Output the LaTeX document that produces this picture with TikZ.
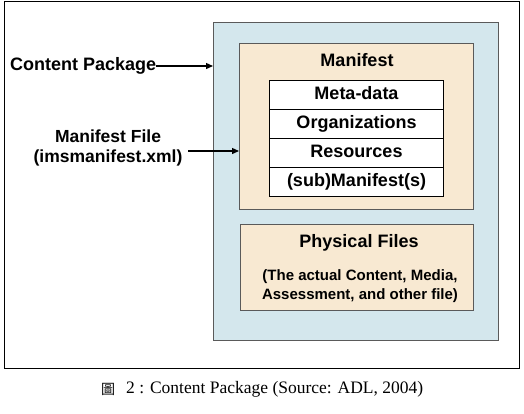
\documentclass[tikz,border=0pt]{standalone}
\usepackage{fontspec}
\setmainfont{Liberation Serif}
\newfontfamily\arial{Liberation Sans}
\newfontfamily\cjk{Noto Sans CJK TC}
\usetikzlibrary{arrows.meta}
\definecolor{pkgblue}{HTML}{D4E7ED}
\definecolor{beige}{HTML}{F8E9D2}
\definecolor{edgegray}{HTML}{5A5A5A}
\begin{document}
\begin{tikzpicture}[x=1pt,y=-1pt,
  lbl/.style={font=\arial\bfseries\fontsize{17.5}{20.5}\selectfont, inner sep=0pt},
  rowtxt/.style={font=\arial\bfseries\fontsize{18}{21}\selectfont, inner sep=0pt, text height=13pt, text depth=4pt},
  small/.style={font=\arial\bfseries\fontsize{15}{18.5}\selectfont, inner sep=0pt, align=center},
  box/.style={draw=edgegray, line width=1.2pt},
  cell/.style={draw=black, line width=1pt, fill=white},
  arr/.style={-{Triangle[length=7pt,width=6pt]}, line width=1.3pt}]
\useasboundingbox (0,0) rectangle (524,413);
\node[draw=black, line width=1.3pt, minimum width=515pt, minimum height=367pt, anchor=north west, inner sep=0pt] (frame) at (4,0.5) {};
\node[box, fill=pkgblue, minimum width=285pt, minimum height=318pt, anchor=north west, inner sep=0pt] (pkg) at (213,22) {};
\node[box, fill=beige, minimum width=234pt, minimum height=166pt, anchor=north west, inner sep=0pt] (man) at (239,43) {};
\node[box, fill=beige, minimum width=233pt, minimum height=86pt, anchor=north west, inner sep=0pt] (phys) at (240,224) {};
\node[cell, minimum width=174pt, minimum height=28.5pt, anchor=north west, inner sep=0pt] (r1) at (269,80) {};
\node[cell, minimum width=174pt, minimum height=29pt, anchor=north west, inner sep=0pt] (r2) at (269,108.5) {};
\node[cell, minimum width=174pt, minimum height=29pt, anchor=north west, inner sep=0pt] (r3) at (269,137.5) {};
\node[cell, minimum width=174pt, minimum height=29.5pt, anchor=north west, inner sep=0pt] (r4) at (269,166.5) {};
\node[rowtxt] (tman) at (357,62) {Manifest};
\node[rowtxt] at (r1.center) {Meta-data};
\node[rowtxt] at (r2.center) {Organizations};
\node[rowtxt] at (r3.center) {Resources};
\node[rowtxt] at (r4.center) {(sub)Manifest(s)};
\node[rowtxt] (tphys) at (359,243) {Physical Files};
\node[small] (tsub) at (360,286) {(The actual Content, Media,\\Assessment, and other file)};
\node[rowtxt, anchor=west] (cp) at (10,66) {Content Package};
\node[lbl, align=center] (mf) at (108,148) {Manifest File\\(imsmanifest.xml)};
\draw[arr] (cp.east) -- (pkg.west |- cp.east);
\draw[arr] (188,151) coordinate (mfa) -- (man.west |- mfa);
\node[inner sep=0pt, font=\fontsize{17.5}{20}\selectfont, anchor=west] (cap) at (126,389) {2 : Content Package (Source: ADL, 2004)};
\node[inner sep=0pt, font=\cjk\fontsize{14}{16}\selectfont] (capchar) at (108,389) {圖};
\end{tikzpicture}
\end{document}
